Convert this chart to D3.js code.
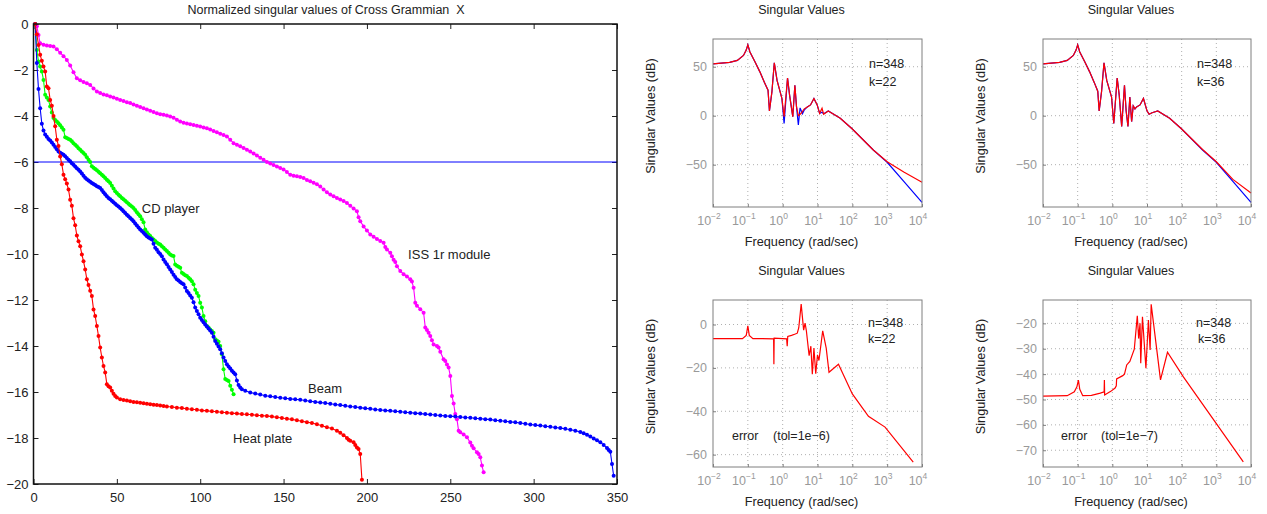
<!DOCTYPE html>
<html>
<head>
<meta charset="utf-8">
<script src="https://cdn.jsdelivr.net/npm/d3@7.9.0/dist/d3.min.js"></script>
<style>
  body { margin: 0; background: #fff; }
  text { font-family: "Liberation Sans", Arial, Helvetica, sans-serif; }
</style>
</head>
<body>
<svg id="fig" width="1267" height="514"></svg>
<script>
// ---- left panel: normalized singular values (log10) vs index ----
const heatPlate = [[1,0],[2,-0.45],[3,-0.91],[4,-1.34],[5,-1.6],[6,-1.85],[7,-2.07],[8,-2.72],[9,-2.79],[10,-3.3],
  [11,-3.55],[12,-4.0],[13,-4.45],[14,-5.03],[15,-5.3],[16,-5.76],[17,-6.1],[18,-6.55],[19,-6.75],[20,-6.94],
  [21,-7.2],[22,-7.64],[23,-7.9],[24,-8.45],[25,-8.75],[26,-9.2],[27,-9.45],[28,-9.66],[29,-10.02],[30,-10.31],
  [31,-10.67],[32,-11.1],[33,-11.35],[34,-11.6],[35,-11.83],[36,-12.41],[37,-12.7],[38,-13.13],[39,-13.57],[40,-14.07],
  [41,-14.5],[42,-14.87],[43,-15.15],[44,-15.66],[45,-15.75],[46,-15.8],[47,-15.95],[48,-16.08],[49,-16.17],[50,-16.24],
  [52,-16.31],[54,-16.35],[56,-16.37],[58,-16.4],[60,-16.43],[62,-16.45],[64,-16.47],[66,-16.49],[68,-16.51],[70,-16.53],
  [72,-16.55],[74,-16.57],[76,-16.59],[78,-16.61],[80,-16.63],[83,-16.65],[86,-16.68],[89,-16.7],[92,-16.73],[95,-16.75],
  [98,-16.77],[101,-16.8],[104,-16.82],[107,-16.84],[110,-16.86],[113,-16.88],[116,-16.9],[119,-16.92],[122,-16.94],[125,-16.96],
  [128,-16.97],[131,-16.99],[134,-17.01],[137,-17.03],[140,-17.04],[143,-17.07],[146,-17.1],[149,-17.13],[152,-17.16],[155,-17.19],
  [158,-17.23],[161,-17.27],[164,-17.31],[167,-17.35],[170,-17.4],[173,-17.47],[176,-17.53],[179,-17.59],[182,-17.68],[184,-17.77],
  [186,-17.88],[188,-18.0],[189,-18.08],[190,-18.12],[192,-18.19],[193,-18.3],[194,-18.41],[195,-18.48],[196,-18.7],[197,-19.81]];

const beam = [[1,0],[2,-1.7],[3,-2.83],[4,-3.66],[5,-4.34],[6,-4.63],[7,-4.8],[8,-4.9],[9,-5.0],[10,-5.06],
  [11,-5.15],[12,-5.25],[13,-5.35],[14,-5.45],[15,-5.54],[16,-5.6],[17,-5.64],[18,-5.68],[19,-5.75],[20,-5.83],
  [21,-5.9],[22,-5.97],[23,-6.05],[24,-6.12],[25,-6.2],[26,-6.27],[27,-6.34],[28,-6.41],[29,-6.5],[30,-6.6],
  [31,-6.69],[32,-6.75],[33,-6.8],[34,-6.86],[35,-6.91],[36,-6.96],[37,-7.0],[38,-7.05],[39,-7.09],[40,-7.13],
  [41,-7.22],[42,-7.31],[43,-7.4],[44,-7.49],[45,-7.56],[46,-7.62],[47,-7.69],[48,-7.75],[49,-7.81],[50,-7.88],
  [51,-7.94],[52,-8.0],[53,-8.07],[54,-8.14],[55,-8.22],[56,-8.29],[57,-8.36],[58,-8.43],[59,-8.5],[60,-8.58],
  [61,-8.67],[62,-8.76],[63,-8.85],[64,-8.94],[65,-9.0],[66,-9.08],[67,-9.15],[68,-9.23],[69,-9.28],[70,-9.33],
  [71,-9.37],[72,-9.55],[73,-9.73],[74,-9.82],[75,-9.92],[76,-10.0],[77,-10.1],[78,-10.24],[79,-10.35],[80,-10.45],
  [81,-10.56],[82,-10.67],[83,-10.78],[84,-10.9],[85,-11.0],[86,-11.1],[87,-11.15],[88,-11.22],[89,-11.27],[90,-11.32],
  [91,-11.46],[92,-11.61],[93,-11.7],[94,-11.8],[95,-11.9],[96,-12.1],[97,-12.33],[98,-12.48],[99,-12.62],[100,-12.77],
  [101,-12.87],[102,-12.97],[103,-13.06],[104,-13.15],[105,-13.24],[106,-13.33],[107,-13.42],[108,-13.6],[109,-13.78],[110,-13.9],
  [111,-14.02],[112,-14.14],[113,-14.32],[114,-14.5],[115,-14.65],[116,-14.79],[117,-14.89],[118,-14.98],[119,-15.08],[120,-15.15],
  [121,-15.23],[122,-15.5],[123,-15.7],[124,-15.8],[125,-15.88],[127,-15.95],[130,-16.02],[133,-16.07],[136,-16.11],[139,-16.16],
  [142,-16.19],[145,-16.22],[148,-16.25],[151,-16.27],[154,-16.3],[157,-16.32],[160,-16.34],[163,-16.37],[166,-16.4],[169,-16.43],
  [172,-16.46],[175,-16.48],[178,-16.51],[181,-16.54],[184,-16.57],[187,-16.6],[190,-16.63],[193,-16.65],[196,-16.68],[199,-16.71],
  [202,-16.73],[205,-16.76],[208,-16.78],[211,-16.8],[214,-16.82],[217,-16.84],[220,-16.86],[223,-16.88],[226,-16.9],[229,-16.92],
  [232,-16.94],[235,-16.96],[238,-16.98],[241,-17.0],[244,-17.02],[247,-17.04],[250,-17.05],[253,-17.07],[256,-17.09],[259,-17.11],
  [262,-17.12],[265,-17.14],[268,-17.16],[271,-17.18],[274,-17.2],[277,-17.23],[280,-17.25],[283,-17.27],[286,-17.3],[289,-17.32],
  [292,-17.35],[295,-17.38],[298,-17.41],[301,-17.44],[304,-17.46],[307,-17.49],[310,-17.51],[313,-17.54],[316,-17.57],[319,-17.6],
  [322,-17.64],[325,-17.68],[328,-17.74],[330,-17.79],[332,-17.86],[334,-17.94],[336,-18.02],[338,-18.1],[340,-18.19],[342,-18.3],
  [344,-18.44],[345,-18.52],[346,-18.6],[347,-19.13],[348,-19.64]];

const cdPlayer = [[1,0],[2,-1.13],[3,-1.63],[4,-1.85],[5,-2.07],[6,-2.43],[7,-3.08],[8,-3.2],[9,-3.3],[10,-3.59],
  [11,-3.85],[12,-4.09],[13,-4.17],[14,-4.24],[15,-4.31],[16,-4.4],[17,-4.5],[18,-4.6],[19,-4.92],[20,-4.96],
  [21,-5.0],[22,-5.03],[23,-5.1],[24,-5.18],[25,-5.25],[26,-5.32],[27,-5.4],[28,-5.47],[29,-5.54],[30,-5.61],
  [31,-5.68],[32,-5.79],[33,-5.9],[34,-6.0],[35,-6.19],[36,-6.25],[37,-6.3],[38,-6.36],[39,-6.42],[40,-6.49],
  [41,-6.55],[42,-6.62],[43,-6.7],[44,-6.77],[45,-6.84],[46,-6.91],[47,-7.03],[48,-7.15],[49,-7.27],[50,-7.35],
  [51,-7.42],[52,-7.49],[53,-7.56],[54,-7.62],[55,-7.69],[56,-7.75],[57,-7.81],[58,-7.88],[59,-7.94],[60,-8.0],
  [61,-8.09],[62,-8.18],[63,-8.27],[64,-8.36],[65,-8.49],[66,-8.62],[67,-8.94],[68,-9.05],[69,-9.15],[70,-9.22],
  [71,-9.3],[72,-9.37],[73,-9.44],[74,-9.5],[75,-9.55],[76,-9.59],[77,-9.66],[78,-9.73],[79,-9.8],[80,-9.87],
  [81,-9.95],[82,-10.02],[83,-10.06],[84,-10.09],[85,-10.46],[86,-10.51],[87,-10.55],[88,-10.6],[89,-10.82],[90,-10.87],
  [91,-10.92],[92,-10.96],[93,-11.03],[94,-11.1],[95,-11.18],[96,-11.32],[97,-11.55],[98,-11.7],[99,-11.83],[100,-12.12],
  [101,-12.33],[102,-12.7],[103,-12.92],[104,-13.13],[105,-13.2],[106,-13.28],[107,-13.35],[108,-13.42],[109,-13.71],[110,-13.76],
  [111,-13.82],[112,-14.0],[113,-14.36],[114,-15.01],[115,-15.44],[116,-15.48],[117,-15.52],[118,-15.73],[119,-15.9],[120,-16.1]];

const issModule = [[1,0],[2,-0.1],[3,-0.48],[4,-0.84],[6,-0.9],[8,-0.93],[10,-0.96],[12,-0.98],[14,-1.1],[16,-1.25],
  [18,-1.4],[20,-1.56],[22,-1.8],[24,-2.1],[26,-2.36],[28,-2.45],[30,-2.52],[32,-2.58],[34,-2.65],[36,-2.8],
  [38,-2.94],[40,-3.0],[42,-3.06],[44,-3.1],[46,-3.15],[48,-3.2],[50,-3.25],[52,-3.3],[54,-3.35],[56,-3.4],
  [58,-3.44],[60,-3.5],[62,-3.55],[64,-3.61],[66,-3.66],[68,-3.72],[70,-3.77],[72,-3.83],[74,-3.88],[76,-3.92],
  [78,-3.95],[80,-3.98],[82,-4.02],[84,-4.08],[86,-4.16],[88,-4.24],[90,-4.29],[92,-4.33],[94,-4.36],[96,-4.39],
  [98,-4.42],[100,-4.46],[102,-4.5],[104,-4.53],[106,-4.59],[108,-4.65],[110,-4.71],[112,-4.77],[114,-4.83],[116,-4.89],
  [118,-5.03],[120,-5.18],[122,-5.25],[124,-5.32],[126,-5.39],[128,-5.47],[130,-5.54],[132,-5.63],[134,-5.72],[136,-5.81],
  [138,-5.9],[140,-6.0],[142,-6.07],[144,-6.13],[146,-6.2],[148,-6.26],[150,-6.33],[152,-6.44],[154,-6.55],[156,-6.6],
  [158,-6.62],[160,-6.65],[162,-6.7],[164,-6.78],[166,-6.84],[168,-6.9],[170,-6.97],[172,-7.06],[174,-7.2],[176,-7.32],
  [178,-7.41],[180,-7.49],[182,-7.56],[184,-7.63],[186,-7.7],[188,-7.78],[190,-7.9],[192,-8.02],[194,-8.14],[195,-8.4],
  [196,-8.58],[198,-8.8],[200,-8.98],[202,-9.15],[204,-9.25],[206,-9.35],[208,-9.43],[210,-9.51],[211,-9.7],[212,-9.8],
  [214,-9.95],[215,-10.1],[216,-10.25],[217,-10.35],[218,-10.53],[220,-10.74],[222,-10.88],[224,-10.98],[226,-11.1],[227,-11.2],
  [228,-11.47],[229,-12.12],[230,-12.25],[232,-12.4],[234,-12.55],[235,-13.2],[236,-13.3],[237,-13.42],[238,-13.57],[239,-13.75],
  [240,-13.93],[242,-14.0],[243,-14.07],[244,-14.25],[246,-14.58],[247,-14.65],[248,-14.8],[249,-14.94],[250,-15.3],[251,-16.17],
  [252,-16.5],[253,-16.96],[254,-17.18],[255,-17.69],[256,-17.75],[258,-17.85],[260,-17.97],[262,-18.2],[263,-18.34],[264,-18.45],
  [266,-18.62],[267,-18.7],[268,-18.84],[269,-19.2],[270,-19.49]];

const cutoff = -6;
const indexTicks = [0, 50, 100, 150, 200, 250, 300, 350];
const logTicks = [0, -2, -4, -6, -8, -10, -12, -14, -16, -18, -20];
const curveNames = [
  { name: 'CD player', idx: 65, val: -8.22 },
  { name: 'ISS 1r module', idx: 224.7, val: -10.22 },
  { name: 'Beam', idx: 164.7, val: -16.04 },
  { name: 'Heat plate', idx: 119.7, val: -18.2 }
];

// ---- right panels: sigma plots, [frequency rad/s, dB] ----
const full22 = [[0.01,53],[0.03,54.5],[0.05,56.5],[0.075,61.5],[0.09,67],[0.1,72.4],[0.115,65],[0.16,55],[0.22,45],[0.3,34],
  [0.38,26],[0.417,4.8],[0.49,24],[0.575,54],[0.69,36],[0.95,17.6],[1.1,-8],[1.38,38.5],[1.58,21],[1.95,-1],
  [2.24,31],[2.5,9],[2.82,-9.5],[3.16,8],[3.7,2],[4.2,6],[5.1,9],[6.3,11],[7.9,17.6],[9.8,11],
  [11.5,2.4],[13.5,3.5],[15,2],[20.4,4.8],[45,-2.6],[100,-13.6],[400,-35],[1000,-47.5],[3000,-67],[10000,-88.5]];
const reduced22 = [[0.01,53],[0.03,54.5],[0.05,56.5],[0.075,61.5],[0.09,67],[0.1,72.4],[0.115,65],[0.16,55],[0.22,45],[0.3,34],
  [0.38,26],[0.417,4.8],[0.49,24],[0.575,54],[0.69,36],[0.95,17.6],[1.1,-1],[1.38,38.5],[1.58,21],[1.95,-1],
  [2.24,31],[2.5,9],[2.82,0],[3.3,2],[4.17,7],[5.1,9],[6.3,11],[7.9,17.6],[9.8,11],
  [11.5,2.4],[13.5,7.6],[15,1.5],[20.4,4.8],[45,-2.6],[100,-13.6],[400,-35],[1000,-47],[3000,-57.5],[10000,-68]];
const full36 = [[0.01,53],[0.03,54.5],[0.05,56.5],[0.075,61.5],[0.09,67],[0.1,72.4],[0.115,65],[0.16,55],[0.22,45],[0.3,34],
  [0.38,25],[0.417,4.8],[0.49,25],[0.575,54],[0.69,36],[0.95,19],[1.1,-8],[1.38,38.5],[1.58,21],[1.86,-11],
  [2.24,31],[2.5,5],[2.82,-11],[3.2,19],[3.6,-6],[4.0,10],[4.5,7],[5,9],[6.3,11],[7.9,17.6],
  [10,5],[11.5,1.5],[14,3],[20.4,4.8],[45,-2.6],[100,-13.6],[400,-35],[1000,-47.5],[3000,-67],[10000,-88.5]];
const reduced36 = [[0.01,53],[0.03,54.5],[0.05,56.5],[0.075,61.5],[0.09,67],[0.1,72.4],[0.115,65],[0.16,55],[0.22,45],[0.3,34],
  [0.38,25],[0.417,4.8],[0.49,25],[0.575,54],[0.69,36],[0.95,19],[1.1,-8],[1.38,38.5],[1.58,21],[1.86,-11],
  [2.24,31],[2.5,5],[2.82,-11],[3.2,19],[3.6,-6],[4.0,10],[4.5,7],[5,9],[6.3,11],[7.9,17.6],
  [10,5],[11.5,1.5],[14,3],[20.4,4.8],[45,-2.6],[100,-13.6],[400,-34.5],[1000,-47],[3000,-65],[10000,-79]];
const error22 = [[0.01,-6.5],[0.07,-6.5],[0.09,-5],[0.1,-0.6],[0.11,-5],[0.14,-6.5],[0.55,-6.6],[0.56,-18.3],[0.57,-6.3],[1.3,-6.6],
  [1.35,-10],[1.4,-5.5],[1.8,-5],[2.3,-4.4],[2.63,-4],[2.9,-1.5],[3.4,9.4],[4.0,-2.6],[4.4,0.6],[4.8,-3],
  [5.75,-14.4],[6.45,-10],[7.1,-22.9],[7.9,-10.9],[8.9,-22.7],[10,-14],[11,-16.6],[14.1,-2.9],[17.8,-10.9],[21.4,-22],
  [40,-18.3],[100,-32],[290,-42.3],[870,-47.3],[5600,-63.4]];
const error36 = [[0.01,-48.7],[0.05,-48.5],[0.08,-47],[0.095,-45],[0.105,-42.4],[0.115,-46],[0.14,-48.5],[0.25,-48.4],[0.45,-47.5],[0.58,-47],
  [0.59,-42.3],[0.6,-48.2],[0.9,-46.8],[1.2,-45.5],[1.3,-44.6],[1.33,-41.9],[2,-40.6],[2.24,-40],[2.6,-36.4],[3.2,-35],
  [4.3,-30.2],[5.25,-17],[5.75,-26],[6.3,-20],[6.6,-35.7],[7.4,-17.4],[9.3,-37.7],[11,-18.7],[12.3,-30.5],[13.2,-12.5],
  [24.5,-42.3],[39,-31.4],[112,-41.1],[6000,-74.6]];
const freqTicks = [1e-2, 1e-1, 1, 1e1, 1e2, 1e3, 1e4];

const svg = d3.select('#fig');
svg.append('rect').attr('width', 1267).attr('height', 514).attr('fill', '#fff');

drawLeft();

drawSigma({ left: 713, right: 922, top: 39, bottom: 207, yDomain: [-93.2, 78.3], yTicks: [-50, 0, 50],
  lines: [[full22, '#0000ff'], [reduced22, '#ff0000']],
  notes: [['n=348', 869, 68], ['k=22', 869, 86]] });
drawSigma({ left: 1043, right: 1251, top: 39, bottom: 207, yDomain: [-93.2, 78.3], yTicks: [-50, 0, 50],
  lines: [[full36, '#0000ff'], [reduced36, '#ff0000']],
  notes: [['n=348', 1197, 68], ['k=36', 1197, 86]] });
drawSigma({ left: 713, right: 922, top: 300, bottom: 467, yDomain: [-65.7, 11.3], yTicks: [-60, -40, -20, 0],
  lines: [[error22, '#ff0000']],
  notes: [['n=348', 868, 327], ['k=22', 868, 343], ['error', 732, 440], ['(tol=1e\u22126)', 773, 440]] });
drawSigma({ left: 1043, right: 1251, top: 300, bottom: 467, yDomain: [-76.6, -10.8], yTicks: [-70, -60, -50, -40, -30, -20],
  lines: [[error36, '#ff0000']],
  notes: [['n=348', 1196, 327], ['k=36', 1198, 343], ['error', 1061, 440], ['(tol=1e\u22127)', 1101, 440]] });


function drawLeft() {
  let x = d3.scaleLinear().domain([0, 350]).range([33.5, 617]);
  let y = d3.scaleLinear().domain([-20, 0]).range([484, 24]);
  let g = svg.append('g');

  g.append('text')
    .attr('x', 326).attr('y', 14)
    .attr('text-anchor', 'middle')
    .attr('font-size', 12.5).attr('fill', '#222')
    .style('white-space', 'pre')
    .text('Normalized singular values of Cross Grammian  X');

  g.append('g')
    .attr('transform', `translate(0,${y(-20)})`)
    .call(d3.axisBottom(x).tickValues(indexTicks).tickSize(-5).tickPadding(9))
    .call(a => a.select('.domain').remove());
  g.append('g')
    .attr('transform', `translate(0,${y(0)})`)
    .call(d3.axisTop(x).tickValues(indexTicks).tickSize(-5).tickFormat(''))
    .call(a => a.select('.domain').remove());
  g.append('g')
    .attr('transform', `translate(${x(0)},0)`)
    .call(d3.axisLeft(y).tickValues(logTicks).tickSize(-5).tickPadding(5))
    .call(a => a.select('.domain').remove());
  g.append('g')
    .attr('transform', `translate(${x(350)},0)`)
    .call(d3.axisRight(y).tickValues(logTicks).tickSize(-5).tickFormat(''))
    .call(a => a.select('.domain').remove());
  g.selectAll('.tick text').attr('font-size', 13).attr('fill', '#222')
    .style('font-family', '"Liberation Sans", Arial, sans-serif');
  g.selectAll('.tick line').attr('stroke', '#222');

  // cut-off line at -6
  g.append('line')
    .attr('x1', x(0)).attr('x2', x(350))
    .attr('y1', y(cutoff)).attr('y2', y(cutoff))
    .attr('stroke', '#0000ff').attr('stroke-width', 1);

  let line = d3.line().x(d => x(d[0])).y(d => y(d[1]));
  let series = [[issModule, '#ff00ff'], [cdPlayer, '#00ff00'], [beam, '#0000ff'], [heatPlate, '#ff0000']];
  series.forEach(([data, color]) => {
    g.append('path').datum(data)
      .attr('d', line)
      .attr('fill', 'none').attr('stroke', color).attr('stroke-width', 1.1);
    g.append('g').selectAll('circle')
      .data(data)
      .join('circle')
      .attr('cx', d => x(d[0]))
      .attr('cy', d => y(d[1]))
      .attr('r', 2)
      .attr('fill', color);
  });

  g.selectAll('text.label')
    .data(curveNames)
    .join('text')
    .attr('class', 'label')
    .attr('x', d => x(d.idx)).attr('y', d => y(d.val))
    .attr('font-size', 13).attr('fill', '#222')
    .text(d => d.name);

  g.append('rect')
    .attr('x', x(0)).attr('y', y(0))
    .attr('width', x(350) - x(0)).attr('height', y(-20) - y(0))
    .attr('fill', 'none').attr('stroke', '#111').attr('stroke-width', 1.5);
}

function drawSigma(p) {
  let x = d3.scaleLog().domain([1e-2, 1e4]).range([p.left, p.right]);
  let y = d3.scaleLinear().domain(p.yDomain).range([p.bottom, p.top]);
  let g = svg.append('g');
  let cx = (p.left + p.right) / 2 - 16;

  // dotted grid
  g.append('g').selectAll('line')
    .data(freqTicks.slice(1, -1))
    .join('line')
    .attr('x1', d => x(d)).attr('x2', d => x(d))
    .attr('y1', p.top).attr('y2', p.bottom)
    .attr('stroke', '#9a9a9a').attr('stroke-width', 0.8).attr('stroke-dasharray', '1,3');
  g.append('g').selectAll('line')
    .data(p.yTicks)
    .join('line')
    .attr('x1', p.left).attr('x2', p.right)
    .attr('y1', d => y(d)).attr('y2', d => y(d))
    .attr('stroke', '#9a9a9a').attr('stroke-width', 0.8).attr('stroke-dasharray', '1,3');

  // y ticks and labels
  g.append('g')
    .attr('transform', `translate(${p.left},0)`)
    .call(d3.axisLeft(y).tickValues(p.yTicks).tickSize(-3).tickPadding(6))
    .call(a => a.select('.domain').remove())
    .call(a => a.selectAll('line').attr('stroke', '#808080'))
    .call(a => a.selectAll('text').attr('font-size', 12.5).attr('fill', '#999')
      .style('font-family', '"Liberation Sans", Arial, sans-serif'));

  // x ticks with 10^n labels
  g.append('g')
    .attr('transform', `translate(0,${p.bottom})`)
    .call(d3.axisBottom(x).tickValues(freqTicks).tickSize(-3).tickFormat(''))
    .call(a => a.select('.domain').remove())
    .call(a => a.selectAll('line').attr('stroke', '#808080'));
  let lab = g.append('g').selectAll('text')
    .data(freqTicks)
    .join('text')
    .attr('x', d => x(d) - 4).attr('y', p.bottom + 18)
    .attr('text-anchor', 'middle')
    .attr('font-size', 12.5).attr('fill', '#999');
  lab.append('tspan').text('10');
  lab.append('tspan').attr('dy', -6).attr('font-size', 8.5)
    .text(d => d3.format('d')(Math.round(Math.log10(d))).replace('-', '\u2212'));

  // curves
  let line = d3.line().x(d => x(d[0])).y(d => y(d[1]));
  p.lines.forEach(([data, color]) => {
    g.append('path').datum(data)
      .attr('d', line)
      .attr('fill', 'none').attr('stroke', color).attr('stroke-width', 1.2);
  });

  g.append('rect')
    .attr('x', p.left).attr('y', p.top)
    .attr('width', p.right - p.left).attr('height', p.bottom - p.top)
    .attr('fill', 'none').attr('stroke', '#7f7f7f').attr('stroke-width', 1);

  g.append('text')
    .attr('x', cx).attr('y', p.top - 25)
    .attr('text-anchor', 'middle').attr('font-size', 12.5).attr('fill', '#222')
    .text('Singular Values');
  g.append('text')
    .attr('x', cx).attr('y', p.bottom + 39)
    .attr('text-anchor', 'middle').attr('font-size', 12.7).attr('fill', '#222')
    .text('Frequency (rad/sec)');
  g.append('text')
    .attr('transform', `translate(${p.left - 58},${(p.top + p.bottom) / 2 - 7}) rotate(-90)`)
    .attr('text-anchor', 'middle').attr('font-size', 12.7).attr('fill', '#222')
    .text('Singular Values (dB)');

  g.selectAll('text.note')
    .data(p.notes)
    .join('text')
    .attr('class', 'note')
    .attr('x', d => d[1]).attr('y', d => d[2])
    .attr('font-size', 12.5).attr('fill', '#222')
    .style('white-space', 'pre')
    .text(d => d[0]);
}
</script>
</body>
</html>
